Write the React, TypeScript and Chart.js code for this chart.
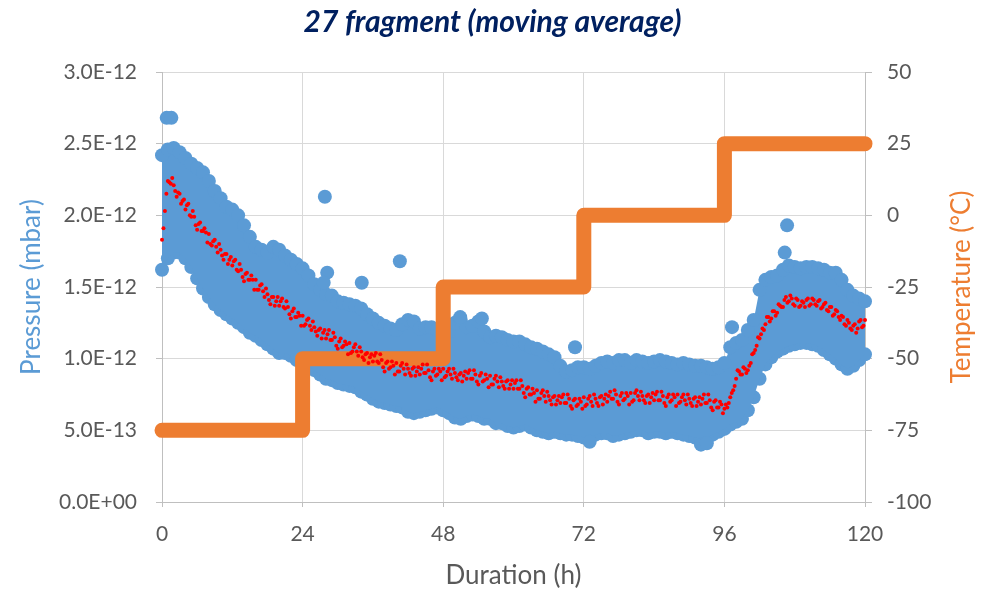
import React, { useEffect, useRef } from 'react';
import { Chart, registerables } from 'chart.js';

Chart.register(...registerables);

// ---- data (pressure in units of 1E-12 mbar, time in hours) ----
const ENVELOPE_STEP_H = 1;
// upper edge of the raw pressure cloud, one value per hour 0..120
const pressureUpper = [
  2.42, 2.46, 2.47, 2.44, 2.40, 2.36, 2.33, 2.30, 2.24, 2.17,
  2.12, 2.06, 2.04, 2.00, 1.93, 1.85, 1.78, 1.76, 1.74, 1.78,
  1.76, 1.72, 1.69, 1.66, 1.63, 1.58, 1.52, 1.48, 1.45, 1.44,
  1.40, 1.39, 1.38, 1.37, 1.35, 1.31, 1.28, 1.25, 1.23, 1.21,
  1.20, 1.24, 1.27, 1.26, 1.21, 1.22, 1.22, 1.20, 1.17, 1.19,
  1.25, 1.27, 1.22, 1.23, 1.26, 1.19, 1.15, 1.16, 1.15, 1.13,
  1.12, 1.12, 1.10, 1.08, 1.07, 1.05, 1.03, 1.01, 0.95, 0.91,
  0.92, 0.94, 0.94, 0.93, 0.95, 0.97, 0.98, 0.97, 0.99, 0.99,
  0.97, 0.99, 0.98, 0.97, 0.98, 0.99, 0.98, 0.97, 0.96, 0.97,
  0.96, 0.95, 0.95, 0.94, 0.93, 0.94, 0.97, 1.08, 1.11, 1.13,
  1.20, 1.27, 1.48, 1.55, 1.57, 1.58, 1.62, 1.65, 1.64, 1.63,
  1.64, 1.64, 1.63, 1.62, 1.60, 1.60, 1.55, 1.48, 1.44, 1.42,
  1.40,
];
// lower edge of the raw pressure cloud, one value per hour 0..120
const pressureLower = [
  1.62, 1.70, 1.74, 1.74, 1.70, 1.64, 1.56, 1.49, 1.43, 1.38,
  1.34, 1.31, 1.28, 1.25, 1.22, 1.18, 1.16, 1.13, 1.10, 1.07,
  1.04, 1.04, 1.02, 0.99, 0.97, 0.95, 0.92, 0.89, 0.86, 0.85,
  0.83, 0.82, 0.81, 0.80, 0.77, 0.75, 0.72, 0.70, 0.69, 0.68,
  0.67, 0.66, 0.63, 0.62, 0.63, 0.64, 0.65, 0.66, 0.64, 0.62,
  0.59, 0.58, 0.60, 0.61, 0.60, 0.58, 0.58, 0.55, 0.55, 0.53,
  0.52, 0.53, 0.54, 0.52, 0.50, 0.49, 0.48, 0.49, 0.48, 0.47,
  0.47, 0.46, 0.45, 0.44, 0.47, 0.48, 0.48, 0.46, 0.47, 0.48,
  0.49, 0.50, 0.50, 0.48, 0.49, 0.49, 0.48, 0.49, 0.48, 0.47,
  0.46, 0.45, 0.44, 0.45, 0.47, 0.49, 0.51, 0.54, 0.56, 0.58,
  0.64, 0.73, 0.86, 0.96, 1.01, 1.05, 1.07, 1.09, 1.10, 1.11,
  1.11, 1.10, 1.09, 1.06, 1.03, 1.00, 0.96, 0.93, 0.95, 0.99,
  1.03,
];
// isolated raw pressure points outside the cloud
const outlierHours = [0.8, 1.6, 27.8, 28.2, 27.6, 34.1, 40.6, 50.9, 54.6, 70.5, 73.0, 92.0, 93.0, 97.3, 106.3, 106.7];
const outlierPressure = [2.68, 2.68, 2.13, 1.60, 1.53, 1.53, 1.68, 1.29, 1.28, 1.08, 0.42, 0.40, 0.41, 1.22, 1.74, 1.93];

// moving average, one value every 0.5 h from 0 to 120
const MOVING_AVG_STEP_H = 0.5;
const movingAverage = [
  1.83, 2.03, 2.24, 2.22, 2.21, 2.13, 2.15, 2.10, 2.04, 2.08, 1.99, 1.99,
  1.90, 1.95, 1.89, 1.88, 1.87, 1.79, 1.83, 1.74, 1.76, 1.69, 1.73, 1.69,
  1.65, 1.69, 1.61, 1.62, 1.54, 1.60, 1.55, 1.55, 1.55, 1.48, 1.52, 1.43,
  1.45, 1.38, 1.43, 1.40, 1.37, 1.42, 1.35, 1.36, 1.28, 1.35, 1.29, 1.30,
  1.30, 1.24, 1.28, 1.20, 1.22, 1.16, 1.21, 1.18, 1.14, 1.20, 1.13, 1.15,
  1.07, 1.14, 1.09, 1.10, 1.11, 1.05, 1.10, 1.02, 1.05, 0.99, 1.04, 1.01,
  0.98, 1.04, 0.97, 0.99, 0.91, 0.98, 0.94, 0.95, 0.97, 0.91, 0.97, 0.89,
  0.93, 0.88, 0.94, 0.91, 0.89, 0.96, 0.90, 0.92, 0.85, 0.93, 0.89, 0.91,
  0.93, 0.88, 0.93, 0.86, 0.90, 0.85, 0.90, 0.88, 0.86, 0.92, 0.86, 0.89,
  0.82, 0.90, 0.85, 0.86, 0.88, 0.82, 0.88, 0.80, 0.84, 0.79, 0.85, 0.82,
  0.79, 0.85, 0.79, 0.81, 0.73, 0.80, 0.75, 0.76, 0.78, 0.72, 0.78, 0.70,
  0.74, 0.68, 0.74, 0.71, 0.69, 0.75, 0.69, 0.72, 0.65, 0.72, 0.68, 0.70,
  0.73, 0.68, 0.74, 0.67, 0.72, 0.67, 0.74, 0.72, 0.70, 0.77, 0.72, 0.75,
  0.68, 0.76, 0.72, 0.74, 0.76, 0.71, 0.78, 0.71, 0.74, 0.69, 0.75, 0.73,
  0.71, 0.77, 0.71, 0.74, 0.67, 0.75, 0.71, 0.73, 0.75, 0.70, 0.75, 0.68,
  0.72, 0.67, 0.73, 0.70, 0.68, 0.75, 0.69, 0.71, 0.64, 0.71, 0.66, 0.68,
  0.65, 0.66, 0.73, 0.78, 0.86, 0.91, 0.89, 0.93, 0.92, 0.97, 1.04, 1.09,
  1.14, 1.21, 1.24, 1.29, 1.28, 1.33, 1.32, 1.37, 1.36, 1.43, 1.40, 1.42,
  1.37, 1.41, 1.37, 1.39, 1.41, 1.37, 1.42, 1.38, 1.40, 1.35, 1.38, 1.34,
  1.36, 1.30, 1.34, 1.29, 1.30, 1.24, 1.27, 1.21, 1.23, 1.18, 1.26, 1.22,
  1.27,
];
// moving average, in-between samples at 0.25 h, 0.75 h, ... 119.75 h
const MOVING_AVG_MID_START_H = 0.25;
const movingAverageMid = [
  1.91, 2.15, 2.23, 2.26, 2.17, 2.16, 2.08, 2.11, 2.07, 2.00, 2.03, 1.93,
  1.94, 1.89, 1.91, 1.81, 1.80, 1.82, 1.78, 1.80, 1.72, 1.73, 1.66, 1.71,
  1.68, 1.62, 1.66, 1.57, 1.59, 1.55, 1.58, 1.48, 1.48, 1.51, 1.47, 1.49,
  1.41, 1.43, 1.37, 1.43, 1.40, 1.36, 1.40, 1.31, 1.33, 1.29, 1.32, 1.23,
  1.23, 1.27, 1.23, 1.26, 1.19, 1.20, 1.14, 1.20, 1.17, 1.13, 1.18, 1.09,
  1.12, 1.08, 1.12, 1.03, 1.04, 1.08, 1.05, 1.08, 1.01, 1.03, 0.97, 1.03,
  1.02, 0.98, 1.03, 0.94, 0.97, 0.93, 0.98, 0.89, 0.91, 0.95, 0.93, 0.96,
  0.90, 0.93, 0.88, 0.94, 0.93, 0.90, 0.96, 0.87, 0.91, 0.88, 0.93, 0.85,
  0.87, 0.91, 0.89, 0.93, 0.87, 0.89, 0.84, 0.91, 0.90, 0.86, 0.92, 0.84,
  0.88, 0.84, 0.89, 0.80, 0.82, 0.86, 0.84, 0.87, 0.81, 0.84, 0.79, 0.85,
  0.83, 0.79, 0.85, 0.76, 0.79, 0.75, 0.79, 0.70, 0.72, 0.76, 0.74, 0.77,
  0.71, 0.73, 0.68, 0.74, 0.73, 0.69, 0.75, 0.67, 0.71, 0.67, 0.72, 0.65,
  0.67, 0.72, 0.70, 0.75, 0.69, 0.73, 0.68, 0.75, 0.74, 0.72, 0.78, 0.70,
  0.74, 0.71, 0.76, 0.68, 0.70, 0.76, 0.74, 0.77, 0.71, 0.74, 0.69, 0.76,
  0.75, 0.71, 0.77, 0.69, 0.73, 0.70, 0.75, 0.67, 0.69, 0.73, 0.71, 0.75,
  0.69, 0.72, 0.67, 0.73, 0.72, 0.69, 0.75, 0.66, 0.70, 0.66, 0.70, 0.62,
  0.68, 0.69, 0.76, 0.81, 0.92, 0.89, 0.94, 0.90, 0.95, 1.03, 1.06, 1.15,
  1.17, 1.20, 1.29, 1.26, 1.33, 1.30, 1.38, 1.36, 1.41, 1.39, 1.44, 1.38,
  1.42, 1.36, 1.40, 1.36, 1.42, 1.38, 1.41, 1.37, 1.41, 1.36, 1.39, 1.33,
  1.36, 1.31, 1.33, 1.27, 1.29, 1.23, 1.25, 1.20, 1.24, 1.21, 1.27, 1.23,
];

// temperature steps (°C)
const tempHours = [0, 24, 24, 48, 48, 72, 72, 96, 96, 120];
const tempValues = [-75, -75, -50, -50, -25, -25, 0, 0, 25, 25];

const X_MIN = 0, X_MAX = 120, X_STEP = 24;
const P_MIN = 0, P_MAX = 3, P_STEP = 0.5;
const T_MIN = -100, T_MAX = 50, T_STEP = 25;

const TITLE = '27 fragment (moving average)';
const X_TITLE = 'Duration (h)';
const Y_TITLE = 'Pressure (mbar)';
const Y2_TITLE = 'Temperature (°C)';

const BLUE = '#5B9BD5';
const ORANGE = '#ED7D31';
const RED = '#FF0000';
const GREY_TEXT = '#595959';
const GRID = '#d9d9d9';
const AXIS = '#bfbfbf';
const FONT = 'Lato, "Open Sans", sans-serif';

function formatPressure(v: number): string {
  const s = (v * 1e-12).toExponential(1).toUpperCase();
  return s.replace(/E([+-])(\d)$/, (_m: string, sg: string, d: string) => 'E' + sg + '0' + d);
}

export default function App() {
  const ref = useRef<HTMLCanvasElement>(null);

  useEffect(() => {
    document.body.style.margin = '0';
    const canvas = ref.current;
    if (!canvas) return;

    const upperPts = pressureUpper.map((v, i) => ({ x: i * ENVELOPE_STEP_H, y: v }));
    const lowerPts = pressureLower.map((v, i) => ({ x: i * ENVELOPE_STEP_H, y: v }));
    const outlierPts = outlierHours.map((h, i) => ({ x: h, y: outlierPressure[i] }));
    const avgPts = movingAverage
      .map((v, i) => ({ x: i * MOVING_AVG_STEP_H, y: v }))
      .concat(movingAverageMid.map((v, i) => ({ x: MOVING_AVG_MID_START_H + i * MOVING_AVG_STEP_H, y: v })));
    const tempPts = tempHours.map((h, i) => ({ x: h, y: tempValues[i] }));

    const rightTitle = {
      id: 'rightTitle',
      afterDraw(chart: any) {
        const { ctx, chartArea } = chart;
        ctx.save();
        ctx.translate(962, (chartArea.top + chartArea.bottom) / 2);
        ctx.rotate(-Math.PI / 2);
        ctx.textAlign = 'center';
        ctx.textBaseline = 'middle';
        ctx.font = '26px ' + FONT;
        ctx.fillStyle = ORANGE;
        ctx.fillText(Y2_TITLE, 0, 0);
        ctx.restore();
      },
    };

    const chart = new Chart(canvas, {
      type: 'line',
      data: {
        datasets: [
          {
            label: 'Moving average',
            data: avgPts,
            yAxisID: 'y',
            showLine: false,
            pointRadius: 2,
            pointBackgroundColor: RED,
            pointBorderWidth: 0,
            borderColor: RED,
            backgroundColor: RED,
            order: 0,
            clip: false,
          } as any,
          {
            label: 'Temperature',
            data: tempPts,
            yAxisID: 'y2',
            borderColor: ORANGE,
            backgroundColor: ORANGE,
            borderWidth: 15,
            borderCapStyle: 'round',
            borderJoinStyle: 'round',
            pointRadius: 0,
            tension: 0,
            fill: false,
            order: 1,
            clip: false,
          } as any,
          {
            label: 'Pressure outliers',
            data: outlierPts,
            yAxisID: 'y',
            showLine: false,
            pointRadius: 7,
            pointBackgroundColor: BLUE,
            pointBorderWidth: 0,
            borderColor: BLUE,
            backgroundColor: BLUE,
            order: 2,
            clip: false,
          } as any,
          {
            label: 'Pressure upper',
            data: upperPts,
            yAxisID: 'y',
            borderWidth: 0,
            borderColor: 'rgba(0,0,0,0)',
            backgroundColor: BLUE,
            pointRadius: 7,
            pointBackgroundColor: BLUE,
            pointBorderWidth: 0,
            tension: 0,
            fill: '+1',
            order: 3,
            clip: false,
          } as any,
          {
            label: 'Pressure lower',
            data: lowerPts,
            yAxisID: 'y',
            borderWidth: 0,
            borderColor: 'rgba(0,0,0,0)',
            backgroundColor: BLUE,
            pointRadius: 7,
            pointBackgroundColor: BLUE,
            pointBorderWidth: 0,
            tension: 0,
            fill: false,
            order: 3,
            clip: false,
          } as any,
        ],
      },
      options: {
        responsive: false,
        animation: false,
        devicePixelRatio: 1,
        events: [],
        layout: { padding: 0 },
        plugins: {
          legend: { display: false },
          tooltip: { enabled: false },
          title: {
            display: true,
            text: TITLE,
            color: '#002060',
            font: { family: FONT, size: 30, weight: 'bold', style: 'italic' },
            padding: { top: 4, bottom: 32 },
          },
        },
        scales: {
          x: {
            type: 'linear',
            min: X_MIN,
            max: X_MAX,
            ticks: {
              stepSize: X_STEP,
              color: GREY_TEXT,
              font: { family: FONT, size: 21 },
              padding: 15,
              maxRotation: 0,
              autoSkip: false,
            },
            grid: { color: GRID, tickLength: 5, tickColor: AXIS },
            border: { color: AXIS },
            title: {
              display: true,
              text: X_TITLE,
              color: GREY_TEXT,
              font: { family: FONT, size: 26 },
              padding: { top: 0, bottom: 0 },
            },
            afterFit: (s: any) => { s.height = 89; },
          },
          y: {
            type: 'linear',
            position: 'left',
            min: P_MIN,
            max: P_MAX,
            ticks: {
              stepSize: P_STEP,
              color: GREY_TEXT,
              font: { family: FONT, size: 21 },
              padding: 19,
              callback: (v: any) => formatPressure(Number(v)),
            },
            grid: { color: GRID, tickLength: 6, tickColor: AXIS },
            border: { color: AXIS },
            title: {
              display: true,
              text: Y_TITLE,
              color: BLUE,
              font: { family: FONT, size: 26 },
              padding: { top: 16.4, bottom: 0 },
            },
            afterFit: (s: any) => { s.width = 162; },
          },
          y2: {
            type: 'linear',
            position: 'right',
            min: T_MIN,
            max: T_MAX,
            ticks: {
              stepSize: T_STEP,
              color: GREY_TEXT,
              font: { family: FONT, size: 21 },
              padding: 15,
              callback: (v: any) => String(v),
            },
            grid: { drawOnChartArea: false, tickLength: 7, tickColor: AXIS },
            border: { color: AXIS },
            afterFit: (s: any) => { s.width = 120; },
          },
        },
      } as any,
      plugins: [rightTitle],
    });

    return () => chart.destroy();
  }, []);

  return (
    <div style={{ width: 985, height: 591, position: 'relative', background: '#fff' }}>
      <canvas ref={ref} width={985} height={591} style={{ display: 'block' }} />
    </div>
  );
}
